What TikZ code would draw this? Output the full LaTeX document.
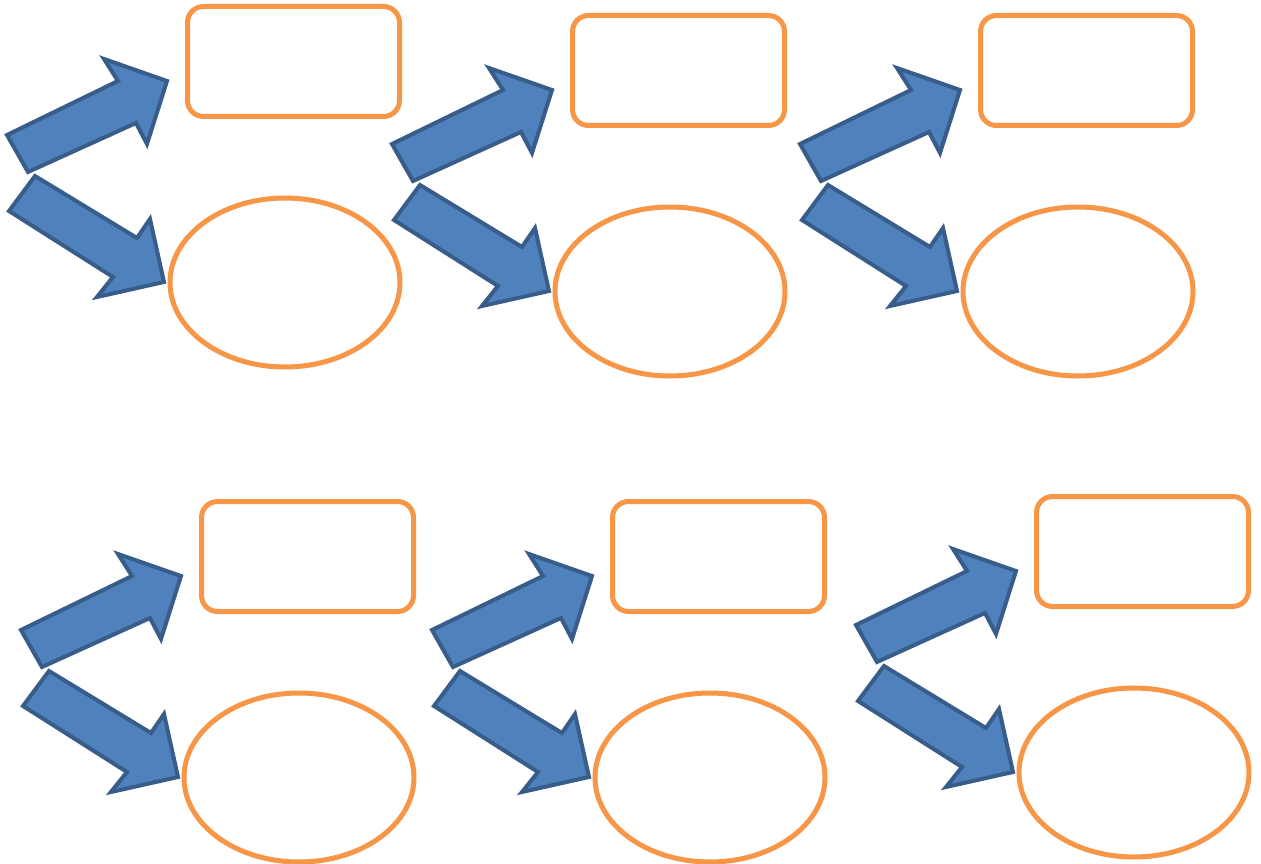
\documentclass[tikz,border=0pt]{standalone}
\usetikzlibrary{shapes.geometric}
\definecolor{boxorange}{HTML}{F79646}
\definecolor{arrowfill}{HTML}{4F81BD}
\definecolor{arrowline}{HTML}{385D8A}
\begin{document}
\begin{tikzpicture}[x=1pt,y=-1pt,
  rbox/.style={draw=boxorange, line width=5pt, fill=white, rounded corners=16pt,
    minimum width=212pt, minimum height=110pt, inner sep=0pt, outer sep=0pt},
  ellbox/.style={ellipse, draw=boxorange, line width=5pt, fill=white,
    minimum width=230pt, minimum height=169pt, inner sep=0pt, outer sep=0pt},
  blockarrow/.style={draw=arrowline, line width=4pt, fill=arrowfill, line join=miter}]
\useasboundingbox (0,0) rectangle (1261,864);
\fill[white] (0,0) rectangle (1261,864);
\foreach \i/\dx/\dy in {1/0/0, 2/385/9, 3/793/9, 4/14/495, 5/425/495, 6/849/490} {
  \begin{scope}[shift={(\dx,\dy)}]
    \node[rbox] (r\i) at (293.5,61.5) {};
    \node[ellbox] (e\i) at (285,282.5) {};
    \coordinate (ut\i) at (167,81);
    \coordinate (lt\i) at (164,282);
    % upper block arrow
    \draw[blockarrow] (28,172) -- (7,135) -- (118,81) -- (104,59) -- (ut\i)
      -- (147,144) -- (136,123) -- cycle;
    % lower block arrow
    \draw[blockarrow] (35,176) -- (9,211) -- (113,277) -- (97,297) -- (lt\i)
      -- (150,219) -- (137,238) -- cycle;
  \end{scope}
}
\end{tikzpicture}
\end{document}
